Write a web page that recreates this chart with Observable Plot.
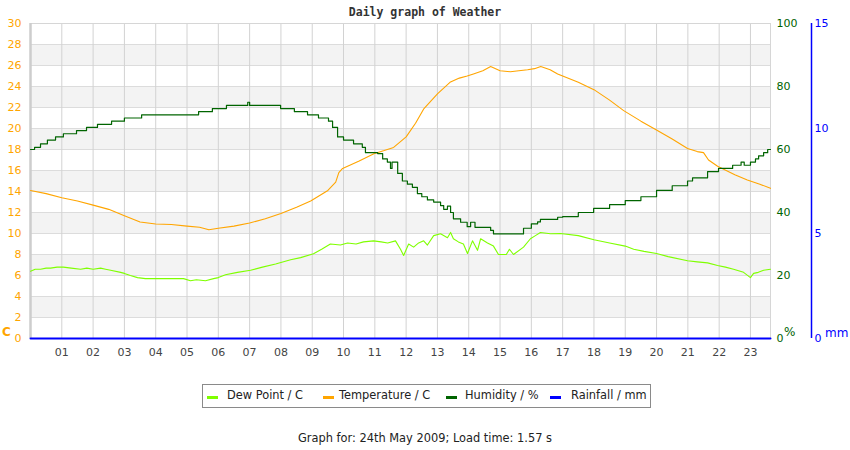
<!DOCTYPE html>
<html><head><meta charset="utf-8">
<script src="https://cdn.jsdelivr.net/npm/d3@7"></script>
<script src="https://cdn.jsdelivr.net/npm/@observablehq/plot@0.6"></script>
<style>
body{margin:0;background:#fff;font-family:"DejaVu Sans",sans-serif;}
#wrap{position:relative;width:850px;height:450px;overflow:hidden;}
#chart{position:absolute;top:0;left:0;}
#title{position:absolute;top:5px;left:0;width:850px;text-align:center;font:bold 11.5px "DejaVu Sans Mono",monospace;color:#333;}
.unit{position:absolute;font-size:12px;}
#legend{position:absolute;left:202px;top:384px;width:447px;height:22px;border:1px solid #8a8a8a;font-size:11.4px;color:#222;}
#legend .sw{position:absolute;top:11px;width:11px;height:2.5px;}
#legend .tx{position:absolute;top:3px;white-space:nowrap;}
#footer{position:absolute;top:431px;left:0;width:850px;text-align:center;font-size:11.4px;color:#222;}
</style></head>
<body>
<div id="wrap">
  <div id="chart"></div>
  <div id="title"></div>
  <div id="legend"></div>
  <div id="footer"></div>
</div>
<script>
const titleText = "Daily graph of Weather";
const footerText = "Graph for: 24th May 2009; Load time: 1.57 s";
const hourTicks = d3.range(1, 24);
const tempTicks = d3.range(0, 31, 2);
const humTicks = [0, 20, 40, 60, 80, 100];
const rainTicks = [0, 5, 10, 15];
const XMAX = 23.64;

// Temperature (°C)
const tempHours = [0,0.5,1,1.5,2,2.5,3,3.5,4,4.5,5,5.4,5.7,6,6.5,7,7.5,8,8.5,8.95,9.5,9.75,9.85,9.97,10.5,10.97,11.3,11.6,12.0,12.3,12.57,13.0,13.4,13.7,13.95,14.15,14.45,14.7,15.0,15.33,15.6,15.88,16.1,16.3,16.6,16.84,17,17.5,18,18.5,18.95,19.5,19.97,20.5,20.99,21.3,21.5,21.66,21.95,22.5,22.9,23.3,23.64];
const tempVals  = [14.1,13.8,13.4,13.1,12.7,12.3,11.7,11.1,10.9,10.85,10.7,10.6,10.35,10.5,10.7,11.0,11.4,11.9,12.5,13.1,14.1,14.9,15.8,16.2,16.9,17.6,17.9,18.2,19.2,20.5,21.9,23.3,24.4,24.8,25.0,25.2,25.5,25.9,25.5,25.4,25.5,25.6,25.7,25.9,25.6,25.2,25.0,24.4,23.7,22.7,21.7,20.7,19.9,19.0,18.1,17.8,17.7,17.0,16.4,15.6,15.1,14.7,14.3];

// Dew point (°C)
const dewHours = [0,0.15,0.32,0.5,0.64,0.85,1.05,1.3,1.6,1.8,2.0,2.24,2.4,2.56,2.88,3.0,3.19,3.42,3.67,4.2,4.89,5.11,5.3,5.59,5.85,6.0,6.23,6.61,7.03,7.41,7.83,8.31,8.63,9.04,9.3,9.58,9.9,10.13,10.4,10.64,10.96,11.2,11.41,11.66,11.82,11.92,12.08,12.24,12.4,12.56,12.68,12.88,13.1,13.32,13.42,13.51,13.67,13.83,13.96,14.12,14.28,14.38,14.6,14.79,14.95,15.2,15.3,15.43,15.75,15.97,16.13,16.29,16.61,16.93,17.5,18.0,18.5,19.0,19.27,19.6,20.0,20.37,20.99,21.3,21.63,21.95,22.2,22.46,22.78,23.0,23.1,23.25,23.42,23.64];
const dewVals  = [6.4,6.6,6.6,6.7,6.7,6.8,6.8,6.7,6.6,6.7,6.6,6.7,6.6,6.5,6.3,6.2,6.0,5.8,5.7,5.7,5.7,5.5,5.6,5.5,5.7,5.8,6.07,6.3,6.5,6.8,7.1,7.5,7.7,8.07,8.5,9.0,8.9,9.1,9.0,9.2,9.3,9.2,9.1,9.3,8.5,7.9,9.0,8.7,9.1,9.3,8.9,9.8,9.97,9.6,10.1,9.5,9.2,9.0,8.1,9.3,8.4,9.5,9.1,8.8,8.0,8.0,8.5,8.0,8.7,9.5,9.8,10.1,9.97,10.0,9.8,9.4,9.1,8.8,8.5,8.3,8.1,7.8,7.4,7.3,7.2,6.95,6.8,6.6,6.3,5.8,6.2,6.3,6.5,6.6];

// Humidity (%)
const humHours = [0,0.13,0.32,0.54,0.8,1.05,1.47,1.79,2.14,2.59,3.0,3.55,5.37,5.81,6.26,6.94,7.0,7.99,8.43,8.85,9.2,9.52,9.65,9.81,10.0,10.32,10.6,10.7,11.09,11.25,11.4,11.5,11.55,11.73,11.88,12.04,12.2,12.36,12.5,12.68,12.88,13.1,13.2,13.32,13.42,13.51,13.74,13.95,14.06,14.2,14.38,14.7,14.79,15.75,15.88,16.0,16.2,16.29,16.84,17.0,17.5,17.99,18.5,19.0,19.5,20.0,20.5,20.99,21.15,21.63,21.98,22.43,22.7,22.8,23.0,23.16,23.26,23.42,23.55,23.64];
const humVals  = [60,60.7,61.8,63,64,65,66,67,68,69,70,71,72,73,74,75,74,73,72,71,70,69,67,64,63,61.8,60.7,59,58.7,57,56,54,56,52.4,50,49,48,46,45,44,43.3,42.2,41,42,40,38,36.9,35.5,36.9,35.3,35.3,34.3,33.2,35,35,36.4,37,37.8,38.5,38.7,40,41.3,42.5,43.8,45,47,48.5,50,51,53,54,55,56,55,56,57,58,59,60,60];

// Rainfall (mm)
const rainHours = [0, 23.64];
const rainVals = [0, 0];

const series = [
  {name:"Dew Point / C", color:"#7fff00"},
  {name:"Temperature / C", color:"#ffa500"},
  {name:"Humidity / %", color:"#006400"},
  {name:"Rainfall / mm", color:"#0000ff"}
];

const temp = tempHours.map((h,i)=>({h, v:tempVals[i]}));
const dew = dewHours.map((h,i)=>({h, v:dewVals[i]}));
const hum = humHours.map((h,i)=>({h, v:humVals[i]}));
const rain = rainHours.map((h,i)=>({h, v:rainVals[i]}));
const bands = [2,6,10,14,18,22,26];
const H2C = 30/100, R2C = 30/15;

const chart = Plot.plot({
  width: 850, height: 370,
  marginLeft: 30, marginRight: 80, marginTop: 23, marginBottom: 32,
  style: {fontFamily: "DejaVu Sans, sans-serif", fontSize: "11px", background: "transparent", overflow: "visible"},
  x: {domain: [0, XMAX]},
  y: {domain: [0, 30]},
  marks: [
    Plot.rect(bands, {x1: () => 0, x2: () => XMAX, y1: d => d, y2: d => d + 2, fill: "#f3f3f3"}),
    Plot.gridY(tempTicks, {stroke: "#dcdcdc", strokeOpacity: 1}),
    Plot.gridX(hourTicks, {stroke: "#d2d2d2", strokeOpacity: 1}),
    Plot.frame({stroke: "#d6d6d6"}),
    Plot.ruleX([0], {stroke: "#cdcdcd", strokeWidth: 2.5}),
    Plot.axisY(tempTicks, {anchor: "left", tickSize: 0, tickPadding: 9, fill: "#ffa500", label: null}),
    Plot.axisY(humTicks.map(v => v * H2C), {anchor: "right", tickSize: 0, tickPadding: 6, tickFormat: d => String(Math.round(d / H2C)), fill: "#006400", label: null}),
    Plot.axisY(rainTicks.map(v => v * R2C), {anchor: "right", tickSize: 0, tickPadding: 44, tickFormat: d => String(Math.round(d / R2C)), fill: "#0000ff", label: null}),
    Plot.ruleX([XMAX], {dx: 41, stroke: "#0000ff", strokeWidth: 1.5}),
    Plot.axisX(hourTicks, {tickSize: 0, tickPadding: 10, tickFormat: d => String(d).padStart(2, "0"), fill: "#444", label: null}),
    Plot.line(dew, {x: "h", y: "v", stroke: series[0].color, strokeWidth: 1.1}),
    Plot.line(temp, {x: "h", y: "v", stroke: series[1].color, strokeWidth: 1.1}),
    Plot.line(hum, {x: "h", y: d => d.v * H2C, stroke: series[2].color, strokeWidth: 1.2, curve: "step-after"}),
    Plot.line(rain, {x: "h", y: d => d.v * R2C, stroke: series[3].color, strokeWidth: 2})
  ]
});
document.getElementById("chart").appendChild(chart);
document.getElementById("title").textContent = titleText;
document.getElementById("footer").textContent = footerText;

const wrap = document.getElementById("wrap");
[["C", 2, 325, "#ffa500", "bold"], ["%", 784, 325, "#006400", "normal"], ["mm", 825, 326, "#0000ff", "normal"]].forEach(([t, x, y, c, w]) => {
  const s = document.createElement("span");
  s.className = "unit"; s.textContent = t;
  s.style.left = x + "px"; s.style.top = y + "px"; s.style.color = c; s.style.fontWeight = w;
  wrap.appendChild(s);
});

const legend = document.getElementById("legend");
const swX = [4, 120, 243, 347], txX = [24, 136, 262, 368];
series.forEach((s, i) => {
  const sw = document.createElement("div");
  sw.className = "sw"; sw.style.left = swX[i] + "px"; sw.style.background = s.color;
  legend.appendChild(sw);
  const tx = document.createElement("div");
  tx.className = "tx"; tx.style.left = txX[i] + "px"; tx.textContent = s.name;
  legend.appendChild(tx);
});
</script>
</body></html>
